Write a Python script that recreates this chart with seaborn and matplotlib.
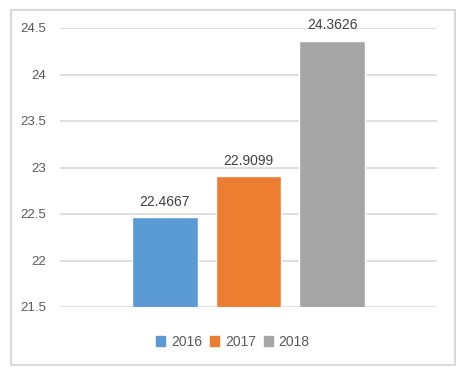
import matplotlib
matplotlib.use("Agg")
import matplotlib.pyplot as plt
import seaborn as sns
import pandas as pd
from matplotlib.patches import Rectangle

years = ['2016', '2017', '2018']
values = [22.4667, 22.9099, 24.3626]
colors = ['#5B9BD5', '#ED7D31', '#A5A5A5']
yticks = [21.5, 22, 22.5, 23, 23.5, 24, 24.5]

df = pd.DataFrame({'year': years, 'value': values})

sns.set_theme(style="white")
plt.rcParams['font.family'] = ['Liberation Sans', 'DejaVu Sans']

fig = plt.figure(figsize=(4.67, 3.70), dpi=100)
ax = fig.add_axes([60/467, 1-307/370, (437-60)/467, (307-28)/370])

sns.barplot(data=df, x='year', y='value', hue='year', palette=colors,
            width=0.79, ax=ax, legend=False, saturation=1)

ax.set_ylim(21.5, 24.5)
ax.set_xlim(-1.257, 3.257)
ax.set_yticks(yticks)
ax.set_yticklabels([f'{t:g}' for t in yticks])
ax.yaxis.grid(True, color='#d9d9d9', linewidth=1.2)
ax.set_axisbelow(True)
for s in ['top', 'right', 'left', 'bottom']:
    ax.spines[s].set_visible(False)
ax.set_xticks([])
ax.set_xlabel('')
ax.set_ylabel('')
ax.tick_params(axis='y', length=0, pad=10, labelsize=9.5, labelcolor='#595959')

for c in ax.containers:
    ax.bar_label(c, fmt='%.4f', padding=6, fontsize=10, color='#404040')

handles = [Rectangle((0, 0), 1, 1, color=c) for c in colors]
fig.legend(handles, years, loc='center', bbox_to_anchor=(233/467, 1-342/370),
           ncol=3, frameon=False, fontsize=10, handlelength=0.65, handleheight=0.65,
           handletextpad=0.4, columnspacing=0.6, labelcolor='#595959')

fig.patches.append(Rectangle((11/467, 1-365/370), (455-11)/467, (365-10)/370,
                             transform=fig.transFigure, fill=False,
                             edgecolor='#d9d9d9', linewidth=1.5))

fig.savefig('out.png', dpi=100)
